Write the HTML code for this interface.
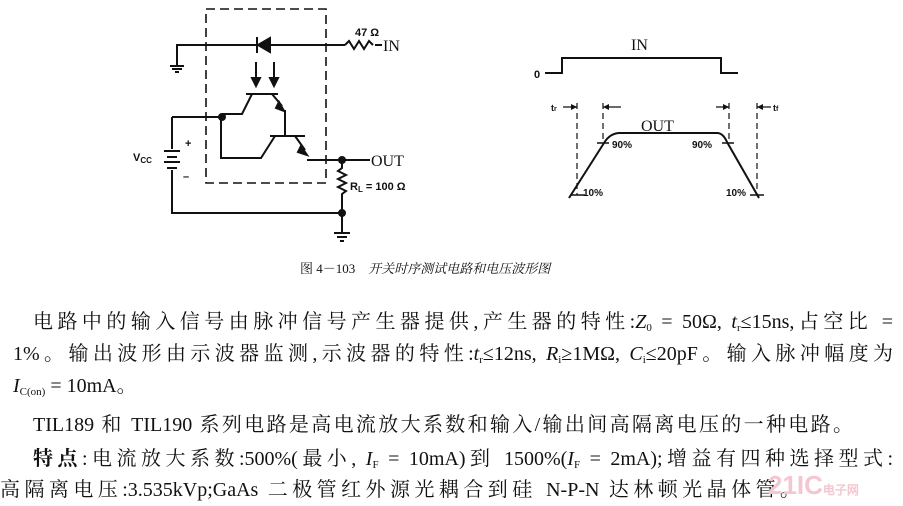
<!DOCTYPE html>
<html><head><meta charset="utf-8"><style>
html,body{margin:0;padding:0;background:#fff;}
body{width:903px;height:506px;position:relative;overflow:hidden;font-family:"Liberation Serif","Noto Serif CJK SC",serif;color:#111;}
.t{position:absolute;white-space:nowrap;font-size:20px;line-height:22px;text-align:justify;text-align-last:justify;text-justify:inter-character;}
i{font-style:italic}
sub{font-size:11px;vertical-align:-3px}
</style></head><body>
<svg width="903" height="260" style="position:absolute;left:0;top:0" font-family="Liberation Sans, sans-serif">
<g stroke="#111" stroke-width="2" fill="none">
<rect x="206" y="9" width="120" height="174" stroke-dasharray="9,5" stroke-width="1.6"/>
<path d="M177 66V45H345M375 45H382"/>
<path d="M345 45l4-4 5 8 5-8 5 8 5-8 4 4"/>
<path d="M170 66h14M172 69h10M175 72h4"/>
<path d="M257 37v16"/>
<path d="M270 38v14l-12-7z" fill="#111"/>
<path d="M256 62v22M274 62v22"/>
<path d="M252 78l4 8 4-8zM270 78l4 8 4-8z" fill="#111"/>
<path d="M246 94h32M252 94l-10 20h-20M272 94l10 12"/>
<path d="M279 102l5 9-8-3z" fill="#111"/>
<path d="M285 110v26"/>
<path d="M270 136h35M275 136l-14 22h-40V117M172 117h50M295 136l10 14"/>
<path d="M301 146l6 9-9-3z" fill="#111"/>
<path d="M307 160H370"/>
<circle cx="222" cy="117" r="3" fill="#111"/>
<circle cx="342" cy="160" r="3" fill="#111"/>
<circle cx="342" cy="213" r="3" fill="#111"/>
<path d="M342 160v8l-4 3 8 4-8 4 8 4-8 4 8 4-4 3v19"/>
<path d="M342 213H172V170M172 117v32"/>
<path d="M164 151h16M167 157h10M164 162h16M167 168h10"/>
<path d="M342 213v20M334 233h16M337 237h10M340 241h4"/>
<path d="M545 73h17V58h159v15h17"/>
<path d="M569 198l35-55q6-10 16-10h97q6 0 10 9l32 56"/>
<path d="M577 103v92M603 103v38M729 103v38M757 103v92" stroke-width="1.2" stroke-dasharray="6,4"/>
<path d="M563 107h14M603 107h18M716 107h13M757 107h14" stroke-width="1.3"/>
<path d="M570 195h15M597 143h12M722 143h12M750 195h14" stroke-width="1.5"/>
</g>
<g fill="#111">
<path d="M577 107l-6-3v6zM603 107l6-3v6zM729 107l-6-3v6zM757 107l6-3v6z"/>
</g>
<g font-size="11" font-weight="bold" fill="#111">
<text x="355" y="36">47 Ω</text>
<text x="350" y="190">R<tspan font-size="8" dy="2">L</tspan><tspan dy="-2"> = 100 Ω</tspan></text>
<text x="133" y="161">V<tspan font-size="8" dy="2">CC</tspan></text>
<text x="185" y="147">+</text><text x="183" y="180">–</text>
<text x="534" y="78">0</text>
<text x="551" y="111" font-size="9">t<tspan font-size="7">r</tspan></text>
<text x="773" y="111" font-size="9">t<tspan font-size="7">f</tspan></text>
<text x="612" y="148" font-size="10">90%</text>
<text x="692" y="148" font-size="10">90%</text>
<text x="583" y="196" font-size="10">10%</text>
<text x="726" y="196" font-size="10">10%</text>
</g>
<g font-family="Liberation Serif, serif" font-size="16" fill="#111">
<text x="383" y="51">IN</text>
<text x="371" y="166">OUT</text>
<text x="631" y="50">IN</text>
<text x="641" y="131">OUT</text>
</g>
</svg>
<div class="t" style="left:300px;top:258px;font-size:13px;text-align:left;text-align-last:auto;">图 4－103　<i>开关时序测试电路和电压波形图</i></div>
<div class="t" style="left:33px;top:311px;width:860px">电路中的输入信号由脉冲信号产生器提供,产生器的特性:<i>Z</i><sub>0</sub> = 50Ω, <i>t</i><sub>r</sub>≤15ns,占空比 =</div>
<div class="t" style="left:13px;top:343px;width:880px">1%。输出波形由示波器监测,示波器的特性:<i>t</i><sub>r</sub>≤12ns, <i>R</i><sub>i</sub>≥1MΩ, <i>C</i><sub>i</sub>≤20pF。输入脉冲幅度为</div>
<div class="t" style="left:13px;top:375px;text-align:left;text-align-last:auto;"><i>I</i><sub>C(on)</sub> = 10mA。</div>
<div class="t" style="left:33px;top:414px;width:820px">TIL189 和 TIL190 系列电路是高电流放大系数和输入/输出间高隔离电压的一种电路。</div>
<div class="t" style="left:33px;top:448px;width:860px"><b>特点</b>:电流放大系数:500%(最小, <i>I</i><sub>F</sub> = 10mA)到 1500%(<i>I</i><sub>F</sub> = 2mA);增益有四种选择型式:</div>
<div class="t" style="left:0px;top:479px;width:800px">高隔离电压:3.535kVp;GaAs 二极管红外源光耦合到硅 N-P-N 达林顿光晶体管。</div>
<div style="position:absolute;left:768px;top:470px;font:bold 26px 'Liberation Sans',sans-serif;color:#f3c7cf;">21IC<span style="font-size:12px">电子网</span></div>
</body></html>
